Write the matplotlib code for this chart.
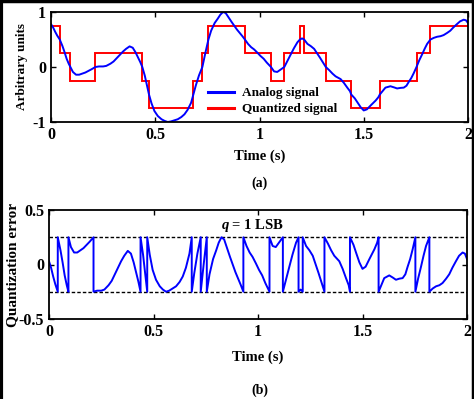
import numpy as np
import matplotlib.pyplot as plt
from matplotlib.lines import Line2D

# -----------------------------------------------------------------------------
# Data
# -----------------------------------------------------------------------------
# Analog signal (time in s, amplitude in arbitrary units)
analog_t = [
    0.000, 0.010, 0.020, 0.030, 0.042, 0.055, 0.065, 0.075, 0.085, 0.093,
    0.105, 0.120, 0.135, 0.150, 0.165, 0.180, 0.195, 0.213, 0.230, 0.250,
    0.265, 0.285, 0.300, 0.315, 0.330, 0.345, 0.360, 0.377, 0.392, 0.405,
    0.418, 0.428, 0.438, 0.450, 0.460, 0.470, 0.482, 0.496, 0.512, 0.530,
    0.545, 0.560, 0.575, 0.592, 0.608, 0.625, 0.640, 0.655, 0.672, 0.683,
    0.695, 0.710, 0.726, 0.740, 0.755, 0.768, 0.785, 0.800, 0.812, 0.825,
    0.838, 0.852, 0.866, 0.879, 0.892, 0.905, 0.918, 0.930, 0.945, 0.960,
    0.974, 0.990, 1.005, 1.020, 1.035, 1.055, 1.070, 1.085, 1.100, 1.119,
    1.135, 1.150, 1.165, 1.182, 1.194, 1.204, 1.214, 1.230, 1.246, 1.262,
    1.276, 1.290, 1.305, 1.318, 1.335, 1.350, 1.365, 1.389, 1.405, 1.421,
    1.434, 1.440, 1.457, 1.469, 1.485, 1.500, 1.515, 1.533, 1.557, 1.570,
    1.577, 1.590, 1.604, 1.628, 1.645, 1.660, 1.676, 1.692, 1.705, 1.716,
    1.728, 1.740, 1.753, 1.766, 1.780, 1.792, 1.804, 1.820, 1.836, 1.852,
    1.868, 1.883, 1.900, 1.915, 1.930, 1.947, 1.962, 1.979, 1.990, 2.000,
]
analog_v = [
    0.78, 0.72, 0.64, 0.57, 0.50, 0.38, 0.27, 0.15, 0.06, 0.00,
    -0.09, -0.14, -0.14, -0.12, -0.10, -0.07, -0.04, 0.00, 0.01, 0.01,
    0.02, 0.06, 0.10, 0.16, 0.22, 0.28, 0.33, 0.375, 0.35, 0.27,
    0.17, 0.09, 0.00, -0.16, -0.33, -0.50, -0.66, -0.80, -0.89, -0.95,
    -0.98, -1.00, -0.99, -0.97, -0.95, -0.91, -0.86, -0.78, -0.65, -0.50,
    -0.33, -0.15, 0.00, 0.25, 0.50, 0.66, 0.80, 0.88, 0.95, 1.00,
    0.98, 0.90, 0.82, 0.75, 0.68, 0.62, 0.56, 0.50, 0.42, 0.36,
    0.32, 0.26, 0.20, 0.15, 0.08, 0.00, -0.08, -0.09, -0.05, 0.00,
    0.12, 0.23, 0.34, 0.45, 0.50, 0.52, 0.50, 0.42, 0.38, 0.33,
    0.25, 0.17, 0.08, 0.00, -0.06, -0.12, -0.17, -0.22, -0.29, -0.375,
    -0.44, -0.50, -0.57, -0.64, -0.73, -0.79, -0.77, -0.70, -0.61, -0.55,
    -0.50, -0.44, -0.375, -0.35, -0.37, -0.39, -0.38, -0.375, -0.34, -0.27,
    -0.20, -0.11, 0.00, 0.12, 0.23, 0.33, 0.42, 0.50, 0.53, 0.55,
    0.56, 0.58, 0.62, 0.66, 0.72, 0.78, 0.83, 0.86, 0.85, 0.80,
]

# Quantized signal: step edges (s) and levels
quant_edges = [0.000, 0.042, 0.093, 0.213, 0.438, 0.470, 0.683, 0.726, 0.755, 0.930,
               1.055, 1.119, 1.194, 1.214, 1.318, 1.440, 1.577, 1.753, 1.820, 2.000]
quant_levels = [0.75, 0.25, -0.25, 0.25, -0.25, -0.75, -0.25, 0.25, 0.75, 0.25,
                -0.25, 0.25, 0.75, 0.25, -0.25, -0.75, -0.25, 0.25, 0.75]

# Quantization error (jumps appear as repeated time values)
error_t = [
    0.000, 0.010, 0.020, 0.030, 0.042,
    0.042, 0.055, 0.065, 0.075, 0.085, 0.093,
    0.093, 0.105, 0.120, 0.135, 0.150, 0.165, 0.180, 0.195, 0.213,
    0.213, 0.230, 0.250, 0.265, 0.285, 0.300, 0.315, 0.330, 0.345, 0.360,
    0.377, 0.392, 0.405, 0.418, 0.428, 0.438,
    0.438, 0.450, 0.460, 0.470,
    0.470, 0.482, 0.496, 0.512, 0.530, 0.545, 0.560, 0.575, 0.592, 0.608,
    0.625, 0.640, 0.655, 0.672, 0.683,
    0.683, 0.695, 0.710, 0.726,
    0.726, 0.740, 0.755,
    0.755, 0.768, 0.785, 0.800, 0.812, 0.825, 0.838, 0.852, 0.866, 0.879,
    0.892, 0.905, 0.918, 0.930,
    0.930, 0.945, 0.960, 0.974, 0.990, 1.005, 1.020, 1.035, 1.055,
    1.055, 1.070, 1.085, 1.100, 1.119,
    1.119, 1.135, 1.150, 1.165, 1.182, 1.194,
    1.194, 1.204, 1.214,
    1.214, 1.230, 1.246, 1.262, 1.276, 1.290, 1.305, 1.318,
    1.318, 1.335, 1.350, 1.365, 1.389, 1.405, 1.421, 1.434, 1.440,
    1.440, 1.457, 1.469, 1.485, 1.500, 1.515, 1.533, 1.557, 1.570, 1.577,
    1.577, 1.590, 1.604, 1.628, 1.645, 1.660, 1.676, 1.692, 1.705, 1.716,
    1.728, 1.740, 1.753,
    1.753, 1.766, 1.780, 1.792, 1.804, 1.820,
    1.820, 1.836, 1.852, 1.868, 1.883, 1.900, 1.915, 1.930, 1.947, 1.962,
    1.979, 1.990, 2.000,
]
error_v = [
    0.03, -0.03, -0.11, -0.18, -0.25,
    0.25, 0.13, 0.02, -0.10, -0.19, -0.25,
    0.25, 0.16, 0.11, 0.11, 0.13, 0.15, 0.18, 0.21, 0.25,
    -0.25, -0.24, -0.24, -0.23, -0.19, -0.15, -0.09, -0.03, 0.03, 0.08,
    0.125, 0.10, 0.02, -0.08, -0.16, -0.25,
    0.25, 0.09, -0.08, -0.25,
    0.25, 0.09, -0.05, -0.14, -0.20, -0.23, -0.25, -0.24, -0.22, -0.20,
    -0.16, -0.11, -0.03, 0.10, 0.25,
    -0.25, -0.08, 0.10, 0.25,
    -0.25, 0.00, 0.25,
    -0.25, -0.09, 0.05, 0.13, 0.20, 0.25, 0.23, 0.15, 0.07, 0.00,
    -0.07, -0.13, -0.19, -0.25,
    0.25, 0.17, 0.11, 0.07, 0.01, -0.05, -0.10, -0.17, -0.25,
    0.25, 0.17, 0.16, 0.20, 0.25,
    -0.25, -0.13, -0.02, 0.09, 0.20, 0.25,
    -0.25, -0.23, -0.25,
    0.25, 0.17, 0.13, 0.08, 0.00, -0.08, -0.17, -0.25,
    0.25, 0.19, 0.13, 0.08, 0.03, -0.04, -0.125, -0.19, -0.25,
    0.25, 0.18, 0.11, 0.02, -0.04, -0.02, 0.05, 0.14, 0.20, 0.25,
    -0.25, -0.19, -0.125, -0.10, -0.12, -0.14, -0.13, -0.125, -0.09, -0.02,
    0.05, 0.14, 0.25,
    -0.25, -0.13, -0.02, 0.08, 0.17, 0.25,
    -0.25, -0.22, -0.20, -0.19, -0.17, -0.13, -0.09, -0.03, 0.03, 0.08,
    0.11, 0.10, 0.05,
]

lsb_bounds = [0.25, -0.25]

# -----------------------------------------------------------------------------
# Style
# -----------------------------------------------------------------------------
plt.rcParams.update({
    "font.family": "Liberation Serif",
    "font.weight": "bold",
    "font.size": 10,
    "axes.unicode_minus": False,
    "mathtext.fontset": "custom",
    "mathtext.it": "Liberation Serif:italic:bold",
    "mathtext.rm": "Liberation Serif:bold",
})

COLOR_ANALOG = "#0000FF"
COLOR_QUANT = "#FF0000"


def style_box(ax):
    ax.tick_params(direction="in", length=3.5, width=1.0, top=True, right=True,
                   labelsize=11.5, pad=3.5)
    for spine in ax.spines.values():
        spine.set_linewidth(1.3)
    for lbl in ax.get_xticklabels() + ax.get_yticklabels():
        lbl.set_fontweight("bold")


fig = plt.figure(figsize=(4.74, 3.99), dpi=100)

# -----------------------------------------------------------------------------
# (a) analog vs quantized
# -----------------------------------------------------------------------------
ax1 = fig.add_axes([51 / 474, 1 - 122 / 399, 417 / 474, 110 / 399])
ax1.stairs(quant_levels, quant_edges, color=COLOR_QUANT, linewidth=1.4,
           baseline=None, label="Quantized signal")
ax1.plot(analog_t, analog_v, color=COLOR_ANALOG, linewidth=1.4,
         label="Analog signal")
ax1.set_xlim(0, 2)
ax1.set_ylim(-1, 1)
ax1.set_xticks([0, 0.5, 1, 1.5, 2])
ax1.set_xticklabels(["0", "0.5", "1", "1.5", "2"])
ax1.set_yticks([-1, 0, 1])
ax1.set_yticklabels(["-1", "0", "1"])
ax1.set_xlabel("Time (s)", fontsize=10.5, fontweight="bold", labelpad=5)
ax1.set_ylabel("Arbitrary units", fontsize=9.5, fontweight="bold", labelpad=3)
style_box(ax1)

handles = [Line2D([], [], color=COLOR_ANALOG, linewidth=2.2),
           Line2D([], [], color=COLOR_QUANT, linewidth=2.2)]
ax1.legend(handles, ["Analog signal", "Quantized signal"],
           loc="center left", bbox_to_anchor=(0.36, 0.19), frameon=False,
           handlelength=2.0, handletextpad=0.6, borderpad=0,
           labelspacing=0.3, prop={"weight": "bold", "size": 9.5})

fig.text(260 / 474, 1 - 183 / 399, "(a)", ha="center", va="center",
         fontsize=10, fontweight="bold")

# -----------------------------------------------------------------------------
# (b) quantization error
# -----------------------------------------------------------------------------
ax2 = fig.add_axes([49 / 474, 1 - 319 / 399, 418 / 474, 109 / 399])
for b in lsb_bounds:
    ax2.axhline(b, color="black", linestyle=(0, (2.5, 1.5)), linewidth=1.0)
ax2.plot(error_t, error_v, color=COLOR_ANALOG, linewidth=1.4)
ax2.set_xlim(0, 2)
ax2.set_ylim(-0.5, 0.5)
ax2.set_xticks([0, 0.5, 1, 1.5, 2])
ax2.set_xticklabels(["0", "0.5", "1", "1.5", "2"])
ax2.set_yticks([-0.5, 0, 0.5])
ax2.set_yticklabels(["-0.5", "0", "0.5"])
ax2.set_xlabel("Time (s)", fontsize=10.5, fontweight="bold", labelpad=8)
ax2.set_ylabel("Quantization error", fontsize=11, fontweight="bold", labelpad=0)
style_box(ax2)

ax2.text(0.975, 0.36, "$q$ = 1 LSB", ha="center", va="center",
         fontsize=10.5, fontweight="bold")

fig.text(260 / 474, 1 - 390 / 399, "(b)", ha="center", va="center",
         fontsize=10, fontweight="bold")

# Outer frame of the original figure (left, top, right)
for xs, ys, lw in [([0.003, 0.003], [0, 1], 3.0),
                   ([0, 1], [0.997, 0.997], 2.5),
                   ([0.997, 0.997], [0, 1], 2.5)]:
    fig.add_artist(Line2D(xs, ys, transform=fig.transFigure, color="black",
                          linewidth=lw))

fig.savefig("out.png", dpi=100)
plt.close(fig)
